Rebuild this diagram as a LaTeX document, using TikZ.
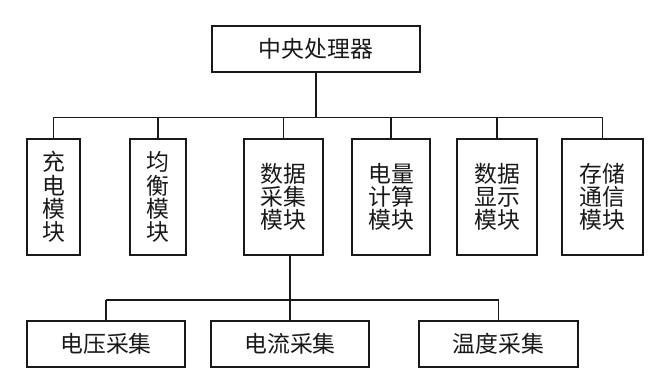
\documentclass[tikz,border=0pt]{standalone}
\usepackage{fontspec}
\setmainfont{Noto Sans CJK SC}
\usepackage{tikz}
\definecolor{ink}{RGB}{25,25,25}

\begin{document}
\begin{tikzpicture}[font=\fontsize{13}{13.2}\selectfont,
  modbox/.style={draw=ink, line width=1.1pt, inner sep=0pt, align=center, text=ink},
  wire/.style={draw=ink, line width=1pt}]
\useasboundingbox[fill=white] (0,0) rectangle (13.20,7.60);
\node[modbox, minimum width=4.16cm, minimum height=0.92cm, line width=1.3pt] (cpu) at (6.32,6.62) {中央处理器};
\node[modbox, minimum width=1.06cm, minimum height=2.32cm] (chg) at (1.07,3.66) {充\\电\\模\\块};
\node[modbox, minimum width=1.12cm, minimum height=2.32cm] (bal) at (3.16,3.66) {均\\衡\\模\\块};
\node[modbox, minimum width=1.58cm, minimum height=2.32cm] (acq) at (5.67,3.66) {数据\\采集\\模块};
\node[modbox, minimum width=1.56cm, minimum height=2.32cm] (cal) at (7.82,3.66) {电量\\计算\\模块};
\node[modbox, minimum width=1.60cm, minimum height=2.32cm] (dsp) at (9.94,3.66) {数据\\显示\\模块};
\node[modbox, minimum width=1.62cm, minimum height=2.32cm] (com) at (12.05,3.66) {存储\\通信\\模块};
\node[modbox, minimum width=3.16cm, minimum height=0.92cm] (vol) at (2.12,0.72) {电压采集};
\node[modbox, minimum width=3.16cm, minimum height=0.92cm] (cur) at (5.80,0.72) {电流采集};
\node[modbox, minimum width=3.18cm, minimum height=0.92cm] (tmp) at (9.97,0.72) {温度采集};
\coordinate (busA) at (0,5.25);
\coordinate (busB) at (0,1.60);
\draw[wire] (cpu.south) -- (cpu.south |- busA);
\draw[wire] (chg.north |- busA) -- (com.north |- busA);
\draw[wire] (chg.north) -- (chg.north |- busA);
\draw[wire] (bal.north) -- (bal.north |- busA);
\draw[wire] (acq.north) -- (acq.north |- busA);
\draw[wire] (cal.north) -- (cal.north |- busA);
\draw[wire] (dsp.north) -- (dsp.north |- busA);
\draw[wire] (com.north) -- (com.north |- busA);
\draw[wire] (cur.north) -- (cur.north |- acq.south);
\draw[wire] (vol.north |- busB) -- (tmp.north |- busB);
\draw[wire] (vol.north) -- (vol.north |- busB);
\draw[wire] (tmp.north) -- (tmp.north |- busB);
\end{tikzpicture}
\end{document}
